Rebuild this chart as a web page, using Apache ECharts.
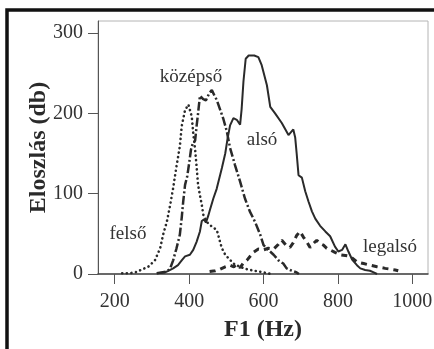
<!DOCTYPE html>
<html>
<head>
<meta charset="utf-8">
<script src="https://cdn.jsdelivr.net/npm/echarts@6/dist/echarts.min.js"></script>
<style>
  html, body { margin: 0; padding: 0; background: #ffffff; }
  #chart { width: 434px; height: 349px; }
</style>
</head>
<body>
<div id="chart"></div>
<script>
// F1 distribution per vowel height class
const xTicks = [200, 400, 600, 800, 1000];
const yTicks = [0, 100, 200, 300];

const felsoX = [220, 240, 255, 270, 290, 308, 322, 330, 340, 349, 357, 366, 375, 380, 389, 398, 402, 407, 411, 416, 420, 424, 429, 434, 438, 447, 461, 474, 478, 483, 488, 497, 505, 519, 536, 555, 575, 600, 620];
const felsoY = [1, 1, 2, 5, 9, 17, 32, 49, 65, 86, 107, 134, 159, 184, 204, 211, 209, 196, 175, 155, 134, 111, 98, 86, 74, 65, 59, 55, 49, 40, 32, 24, 20, 13, 9, 6, 4, 2, 0];

const kozepsoX = [313, 340, 349, 357, 366, 375, 380, 384, 389, 395, 400, 405, 410, 416, 420, 424, 429, 437, 445, 454, 461, 468, 474, 483, 492, 501, 510, 523, 537, 550, 563, 577, 591, 600, 613, 627, 640, 653, 662, 671, 689, 695];
const kozepsoY = [1, 3, 7, 17, 32, 49, 70, 90, 111, 122, 138, 155, 163, 166, 184, 200, 222, 218, 216, 225, 229, 222, 217, 205, 193, 178, 157, 136, 115, 94, 78, 65, 49, 36, 30, 24, 17, 13, 7, 5, 2, 0];

const alsoX = [313, 335, 344, 357, 370, 380, 389, 402, 411, 420, 429, 434, 440, 445, 451, 456, 465, 474, 488, 497, 503, 510, 519, 528, 537, 541, 546, 552, 560, 575, 586, 595, 609, 618, 631, 649, 667, 680, 685, 689, 694, 703, 712, 721, 730, 739, 752, 766, 779, 792, 801, 811, 820, 828, 838, 851, 860, 873, 886, 896, 905];
const alsoY = [1, 2, 4, 7, 11, 17, 22, 24, 30, 40, 53, 66, 68, 64, 72, 80, 94, 106, 132, 150, 168, 185, 194, 192, 186, 205, 240, 268, 272, 272, 270, 260, 235, 208, 200, 188, 173, 180, 170, 150, 123, 120, 103, 90, 78, 69, 60, 53, 47, 34, 28, 30, 37, 28, 18, 11, 7, 5, 4, 2, 0];

const legalsoX = [455, 470, 483, 497, 510, 520, 528, 537, 546, 555, 564, 573, 586, 600, 613, 627, 640, 649, 660, 671, 680, 689, 698, 707, 716, 725, 734, 743, 752, 761, 770, 779, 792, 806, 820, 833, 851, 869, 887, 905, 927, 954, 962];
const legalsoY = [3, 4, 6, 9, 11, 9, 12, 8, 14, 17, 22, 27, 31, 30, 32, 31, 37, 42, 36, 33, 39, 48, 53, 46, 40, 33, 38, 42, 38, 36, 32, 30, 27, 24, 23, 22, 15, 13, 11, 9, 7, 5, 4];

const seriesNames = ["felső", "középső", "alsó", "legalsó"];

const pairs = (xs, ys) => xs.map((x, i) => [x, ys[i]]);

const ink = "#2a2a2a";
const serif = "Liberation Serif, Times New Roman, serif";

const chart = echarts.init(document.getElementById("chart"), null, { renderer: "canvas" });

function curve(name, xs, ys, lineStyle) {
  return {
    name: name,
    type: "line",
    data: pairs(xs, ys),
    showSymbol: false,
    silent: true,
    lineStyle: Object.assign({ color: ink, width: 2 }, lineStyle)
  };
}

function note(text, x, y) {
  return {
    type: "text",
    x: x,
    y: y,
    style: {
      text: text,
      font: "19px " + serif,
      fill: "#333",
      align: "center",
      verticalAlign: "middle"
    }
  };
}

chart.setOption({
  animation: false,
  backgroundColor: "#ffffff",
  grid: {
    left: 98,
    right: 6,
    top: 21,
    bottom: 75,
    show: true,
    borderColor: "#b4b4b4",
    borderWidth: 1,
    outerBoundsMode: "none"
  },
  xAxis: {
    type: "value",
    min: 155,
    max: 1042,
    name: "F1 (Hz)",
    nameLocation: "middle",
    nameGap: 44,
    nameMoveOverlap: false,
    nameTextStyle: { fontFamily: serif, fontSize: 24, fontWeight: "bold", color: ink },
    axisLine: { show: true, onZero: false, lineStyle: { color: "#444", width: 1.5 } },
    axisTick: { show: true, length: 10, customValues: xTicks, lineStyle: { color: "#555" } },
    axisLabel: {
      customValues: xTicks,
      formatter: (v) => String(v),
      margin: 18,
      fontFamily: serif,
      fontSize: 20,
      color: "#333"
    },
    splitLine: { show: false }
  },
  yAxis: {
    type: "value",
    min: 0,
    max: 315,
    name: "Eloszlás (db)",
    nameLocation: "middle",
    nameGap: 47,
    nameMoveOverlap: false,
    nameTextStyle: { fontFamily: serif, fontSize: 24, fontWeight: "bold", color: ink },
    axisLine: { show: true, lineStyle: { color: "#555", width: 1 } },
    axisTick: { show: true, length: 10, customValues: yTicks, lineStyle: { color: "#555" } },
    axisLabel: {
      customValues: yTicks,
      formatter: (v) => String(v),
      margin: 15,
      fontFamily: serif,
      fontSize: 20,
      color: "#333"
    },
    splitLine: { show: false }
  },
  graphic: [
    {
      type: "rect",
      shape: { x: 7, y: 10, width: 520, height: 500 },
      style: { fill: null, stroke: "#111", lineWidth: 3.5 },
      silent: true
    },
    note(seriesNames[1], 191, 77),
    note(seriesNames[2], 262, 140),
    note(seriesNames[0], 128, 234),
    note(seriesNames[3], 390, 247)
  ],
  series: [
    curve(seriesNames[0], felsoX, felsoY, { type: [0.1, 4.5], cap: "round", width: 2.6 }),
    curve(seriesNames[1], kozepsoX, kozepsoY, { type: [9, 2.5, 2, 2.5], width: 2.5 }),
    curve(seriesNames[2], alsoX, alsoY, { type: "solid", width: 2 }),
    curve(seriesNames[3], legalsoX, legalsoY, { type: [6, 5], width: 3 })
  ]
});
</script>
</body>
</html>
